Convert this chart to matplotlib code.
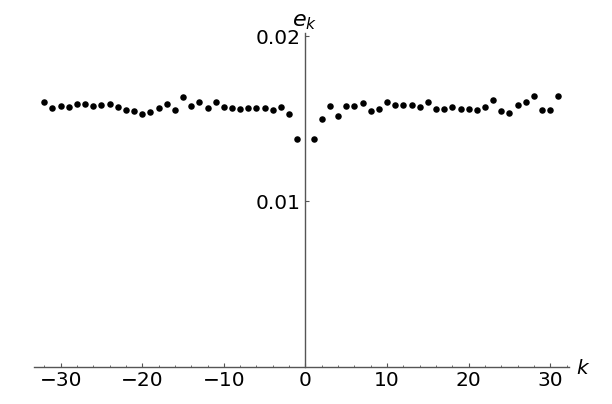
import numpy as np
import matplotlib
matplotlib.use('Agg')
import matplotlib.pyplot as plt
from matplotlib.ticker import MultipleLocator

# k values (k = 0 is not plotted)
k = list(range(-32, 0)) + list(range(1, 32))

# e_k
e_neg = [0.01605, 0.01564, 0.01577, 0.01573, 0.01589, 0.01591, 0.01579, 0.01583,
         0.01593, 0.01570, 0.01556, 0.01548, 0.01530, 0.01544, 0.01564, 0.01592,
         0.01556, 0.01632, 0.01579, 0.01605, 0.01567, 0.01605, 0.01570, 0.01567,
         0.01561, 0.01564, 0.01564, 0.01567, 0.01556, 0.01573, 0.01530, 0.01378]
e_pos = [0.01378, 0.01497, 0.01577, 0.01518, 0.01579, 0.01579, 0.01597, 0.01550,
         0.01562, 0.01604, 0.01585, 0.01587, 0.01585, 0.01573, 0.01604, 0.01558,
         0.01561, 0.01570, 0.01562, 0.01562, 0.01556, 0.01573, 0.01616, 0.01550,
         0.01534, 0.01585, 0.01604, 0.01638, 0.01552, 0.01552, 0.01642]
e_k = e_neg + e_pos

yticks = [0.01, 0.02]
ytick_labels = ['0.01', '0.02']

axis_color = '#555555'

fig = plt.figure(figsize=(6.12, 4.04), dpi=100)
ax = fig.add_axes([0.0551, 0.0928, 0.8747, 0.8255])

ax.scatter(k, e_k, s=22, color='black', linewidths=0, zorder=3, clip_on=False)

ax.set_xlim(-33.3, 32.3)
ax.set_ylim(0, 0.02021)

# Mathematica-like axes crossing at the origin
ax.spines['top'].set_visible(False)
ax.spines['right'].set_visible(False)
ax.spines['left'].set_position(('data', 0))
ax.spines['bottom'].set_position(('data', 0))
for s in ['left', 'bottom']:
    ax.spines[s].set_color(axis_color)
    ax.spines[s].set_linewidth(1.0)

ax.xaxis.set_major_locator(MultipleLocator(10))
ax.xaxis.set_minor_locator(MultipleLocator(2))
ax.set_yticks(yticks, ytick_labels)

ax.tick_params(axis='x', which='major', direction='in', length=3, width=0.8,
               color=axis_color, labelsize=14.5, pad=3)
ax.tick_params(axis='x', which='minor', direction='in', length=1.6, width=0.6,
               color=axis_color)
ax.tick_params(axis='y', which='major', direction='in', length=3, width=0.8,
               color=axis_color, labelsize=14.5, pad=3.5)

# axis labels at the ends of the axes
ax.text(33.1, -0.0001, '$k$', fontsize=14.5, ha='left', va='center', clip_on=False)
ax.text(-1.6, 0.02028, '$e_k$', fontsize=16, ha='left', va='bottom', clip_on=False)

fig.savefig('out.png', dpi=100)
